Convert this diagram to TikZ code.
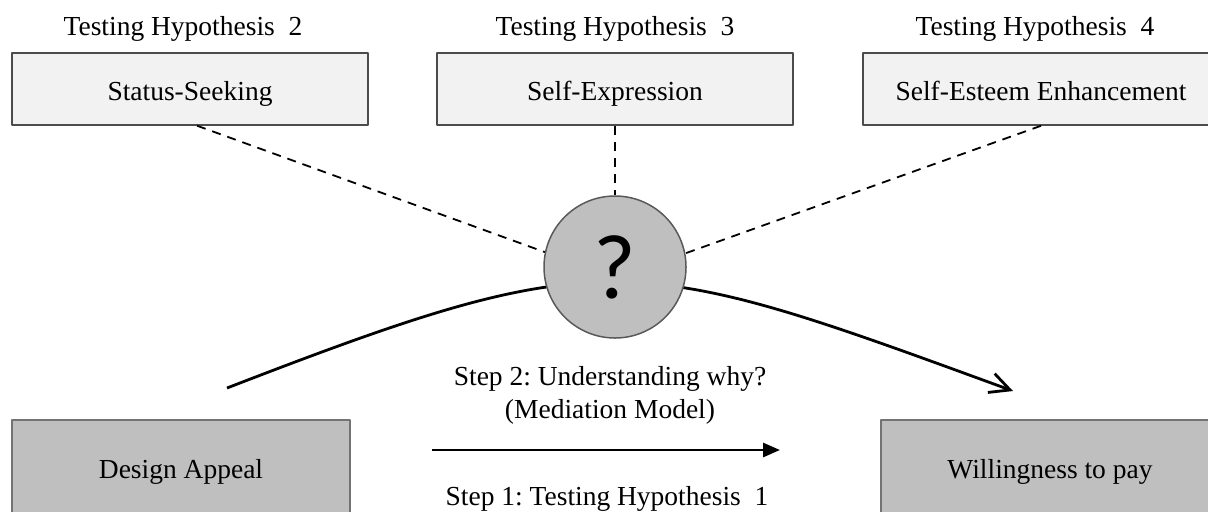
\documentclass[tikz,border=0pt]{standalone}
\usepackage{fontspec}
\setmainfont{Liberation Serif}
\newfontfamily\qfont{Carlito}
\usetikzlibrary{arrows.meta}
\frenchspacing
\begin{document}
\begin{tikzpicture}[x=0.5pt, y=-0.5pt, line join=round, font=\fontsize{13.75}{16.5}\selectfont,
	lbl/.style={text height=10pt, text depth=2pt},
	topbox/.style={draw=black!70, line width=0.75pt, fill=black!5, minimum width=178pt, minimum height=36pt, inner sep=0pt, text height=12pt, text depth=1pt},
	basebox/.style={draw=black!55, line width=0.75pt, fill=black!25, minimum width=169pt, minimum height=50pt, inner sep=0pt, text height=10pt, text depth=2pt},
	hypline/.style={line width=0.9pt, dash pattern=on 4.5pt off 3.5pt},
	pathline/.style={line width=1.4pt}]
			\useasboundingbox (0,0) rectangle (1208,511);
			\clip (0,0) rectangle (1208,511);
			\node[lbl] (t2) at (183,27) {Testing Hypothesis~~2};
			\node[lbl] (t3) at (615,27) {Testing Hypothesis~~3};
			\node[lbl] (t4) at (1035,27) {Testing Hypothesis~~4};
			\node[topbox] (ss) at (190,89) {Status-Seeking};
			\node[topbox] (sx) at (615,89) {Self-Expression};
			\node[topbox] (se) at (1041,89) {Self-Esteem Enhancement};
			\node[basebox] (da) at (181,470) {Design Appeal};
			\node[basebox] (wp) at (1050,470) {Willingness to pay};
			\coordinate (cs) at (227,388);
			\coordinate (ce) at (1013,391);
			\draw[pathline, -{Straight Barb[length=10pt, width=10pt, line width=1.4pt]}] (cs) .. controls (607,241) and (633,252) .. (ce);
			\node[circle, draw=black!65, line width=0.75pt, fill=black!25, minimum size=71pt, inner sep=0pt] (q) at (615,267) {\qfont\fontsize{46}{46}\selectfont ?};
			\draw[hypline] (ss.-79)--(q.168);
			\draw[hypline] (sx.south)--(q.north);
			\draw[hypline] (se.south)--(q.11);
			\coordinate (ms) at (432,450);
			\coordinate (me) at (780,450);
			\draw[pathline, -{Triangle[length=8.5pt, width=7pt]}] (ms)--(me);
			\node[align=center] (s2) at (610,395) {Step 2: Understanding why?\\(Mediation Model)};
			\node[lbl] (s1) at (607,497) {Step 1: Testing Hypothesis~~1};
	\end{tikzpicture}
\end{document}
